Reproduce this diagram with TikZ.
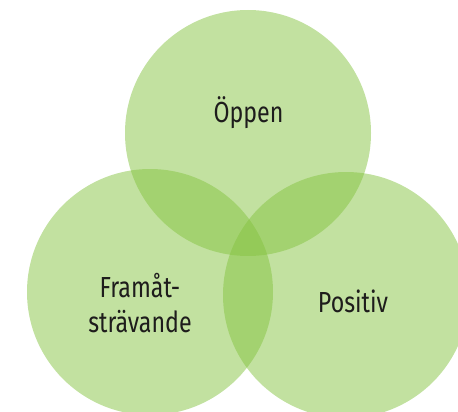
\documentclass[tikz,border=0pt]{standalone}
\usepackage{fontspec}
\setmainfont{Fira Sans}[FakeStretch=0.8]
\definecolor{venn}{RGB}{133,195,65}
\definecolor{txt}{RGB}{30,28,28}
\begin{document}
\begin{tikzpicture}[x=1pt,y=-1pt,
  vcircle/.style={fill=venn,fill opacity=0.5,draw=none},
  lbl/.style={text=txt,font=\fontsize{29}{35}\selectfont,anchor=base,inner sep=0pt,align=center}]
\useasboundingbox (0,0) rectangle (458,412);
\clip (0,0) rectangle (458,412);
\fill[vcircle] (248,133) circle[radius=123];
\fill[vcircle] (150,292) circle[radius=123];
\fill[vcircle] (346,295) circle[radius=123];
\node[lbl] (oppen) at (248.5,122) {Öppen};
\node[lbl] (fram1) at (140,297.5) {Framåt-};
\node[lbl] (fram2) at (140,332.5) {strävande};
\node[lbl] (pos) at (353,312.5) {Positiv};
\end{tikzpicture}
\end{document}
